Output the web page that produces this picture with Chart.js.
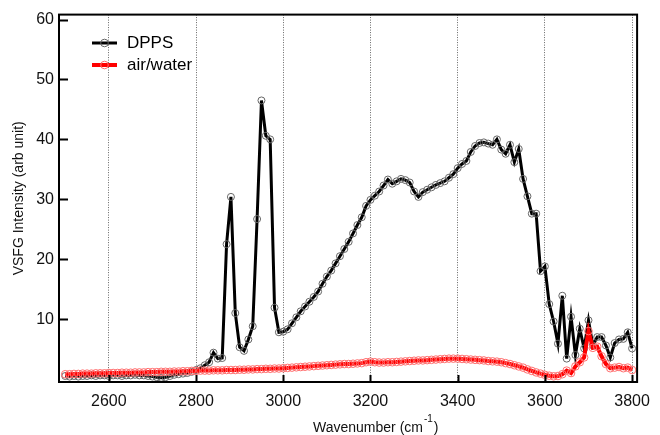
<!DOCTYPE html>
<html>
<head>
<meta charset="utf-8">
<script src="https://cdn.jsdelivr.net/npm/chart.js@4.4.1/dist/chart.umd.min.js"></script>
<style>
  html, body { margin: 0; padding: 0; background: #fff; }
</style>
</head>
<body>
<canvas id="vsfg" width="660" height="435"></canvas>
<script>
// wavenumbers (cm-1), both spectra share the same grid
const wavenumber = [
  2500, 2510, 2520, 2530, 2540, 2550, 2560, 2570, 2580, 2590,
  2600, 2610, 2620, 2630, 2640, 2650, 2660, 2670, 2680, 2690,
  2700, 2710, 2720, 2730, 2740, 2750, 2760, 2770, 2780, 2790,
  2800, 2810, 2820, 2830, 2840, 2850, 2860, 2870, 2880, 2890,
  2900, 2910, 2920, 2930, 2940, 2950, 2960, 2970, 2980, 2990,
  3000, 3010, 3020, 3030, 3040, 3050, 3060, 3070, 3080, 3090,
  3100, 3110, 3120, 3130, 3140, 3150, 3160, 3170, 3180, 3190,
  3200, 3210, 3220, 3230, 3240, 3250, 3260, 3270, 3280, 3290,
  3300, 3310, 3320, 3330, 3340, 3350, 3360, 3370, 3380, 3390,
  3400, 3410, 3420, 3430, 3440, 3450, 3460, 3470, 3480, 3490,
  3500, 3510, 3520, 3530, 3540, 3550, 3560, 3570, 3580, 3590,
  3600, 3610, 3620, 3630, 3640, 3650, 3660, 3670, 3680, 3690,
  3700, 3710, 3720, 3730, 3740, 3750, 3760, 3770, 3780, 3790,
  3800
];

const dpps = [
  0.5, 0.4, 0.5, 0.4, 0.5, 0.5, 0.6, 0.5, 0.6, 0.6,
  0.5, 0.6, 0.6, 0.5, 0.6, 0.6, 0.7, 0.6, 0.6, 0.5,
  0.4, 0.3, 0.2, 0.3, 0.5, 0.7, 0.8, 0.9, 1.0, 1.2,
  1.5, 1.8, 2.3, 2.8, 4.4, 3.4, 3.5, 22.5, 30.4, 11.0,
  5.3, 4.7, 6.6, 8.8, 26.7, 46.5, 40.6, 40.0, 11.9, 7.8,
  7.9, 8.3, 9.3, 10.3, 11.3, 12.1, 12.9, 13.7, 14.6, 15.9,
  17.1, 18.1, 19.3, 20.5, 21.7, 22.9, 24.3, 25.7, 27.0, 28.9,
  29.9, 30.6, 31.3, 32.3, 33.3, 32.6, 33.0, 33.4, 33.2, 32.8,
  31.3, 30.4, 31.2, 31.6, 32.0, 32.4, 32.7, 33.0, 33.6, 34.2,
  35.2, 35.9, 36.4, 37.9, 38.9, 39.4, 39.5, 39.3, 39.1, 40.0,
  38.3, 37.6, 39.1, 36.2, 38.4, 33.4, 30.5, 27.6, 27.6, 18.0,
  18.8, 12.5, 9.6, 5.9, 13.9, 3.4, 10.4, 4.0, 8.4, 5.1,
  9.8, 5.6, 7.0, 7.0, 5.6, 3.6, 6.0, 6.6, 6.7, 7.8,
  5.1
];

const airWater = [
  0.8, 0.8, 0.85, 0.85, 0.9, 0.9, 0.9, 0.95, 0.95, 0.95,
  1.0, 1.0, 1.0, 1.05, 1.05, 1.05, 1.1, 1.1, 1.1, 1.15,
  1.15, 1.15, 1.2, 1.2, 1.2, 1.25, 1.25, 1.3, 1.3, 1.35,
  1.35, 1.4, 1.4, 1.4, 1.45, 1.45, 1.45, 1.5, 1.5, 1.5,
  1.55, 1.55, 1.6, 1.6, 1.65, 1.65, 1.7, 1.7, 1.75, 1.75,
  1.8, 1.85, 1.9, 1.95, 2.0, 2.05, 2.1, 2.15, 2.2, 2.25,
  2.3, 2.35, 2.4, 2.45, 2.5, 2.5, 2.55, 2.6, 2.65, 2.8,
  2.9, 2.8, 2.75, 2.75, 2.8, 2.8, 2.85, 2.9, 2.95, 3.0,
  3.05, 3.1, 3.1, 3.15, 3.2, 3.25, 3.3, 3.35, 3.4, 3.4,
  3.4, 3.35, 3.3, 3.25, 3.2, 3.15, 3.1, 3.0, 2.95, 2.9,
  2.8, 2.65, 2.5, 2.3, 2.1, 1.9, 1.6, 1.35, 1.1, 0.9,
  0.7, 0.55, 0.45, 0.5, 0.8, 1.4, 1.0, 2.1, 2.8, 3.6,
  8.0, 5.2, 5.4, 3.8, 2.5, 1.8, 1.9, 2.0, 1.8, 1.9,
  1.5
];

const xTicks = [2600, 2800, 3000, 3200, 3400, 3600, 3800];
const yTicks = [10, 20, 30, 40, 50, 60];

const FONT = "'Liberation Sans', Arial, Helvetica, sans-serif";

function toPoints(ys) {
  return wavenumber.map((x, i) => ({ x: x, y: ys[i] }));
}

// frame, inward tick marks, legend inside the plot, x title with superscript
const decorations = {
  id: "decorations",
  afterDraw(chart) {
    const ctx = chart.ctx;
    const area = chart.chartArea;
    const xs = chart.scales.x;
    const ys = chart.scales.y;

    ctx.save();
    ctx.strokeStyle = "#000";
    ctx.lineWidth = 2;
    ctx.strokeRect(area.left, area.top, area.right - area.left, area.bottom - area.top);

    ctx.beginPath();
    xTicks.forEach(v => {
      const px = Math.round(xs.getPixelForValue(v)) + 0.5;
      ctx.moveTo(px, area.bottom);
      ctx.lineTo(px, area.bottom - 7);
    });
    yTicks.forEach(v => {
      const py = Math.round(ys.getPixelForValue(v)) + 0.5;
      ctx.moveTo(area.left, py);
      ctx.lineTo(area.left + 9, py);
    });
    ctx.stroke();

    // legend
    const rows = [43, 65];
    chart.data.datasets.forEach((ds, i) => {
      const y = rows[i];
      ctx.strokeStyle = ds.borderColor;
      ctx.lineWidth = ds.borderWidth;
      ctx.beginPath();
      ctx.moveTo(92, y);
      ctx.lineTo(117, y);
      ctx.stroke();
      ctx.strokeStyle = ds.pointBorderColor;
      ctx.lineWidth = 1;
      ctx.beginPath();
      ctx.arc(104.5, y, 3.8, 0, Math.PI * 2);
      ctx.stroke();
      ctx.fillStyle = "#000";
      ctx.font = "17px " + FONT;
      ctx.textBaseline = "middle";
      ctx.textAlign = "left";
      ctx.fillText(ds.label, 127, y);
    });

    // x axis title
    ctx.fillStyle = "#111";
    ctx.textBaseline = "alphabetic";
    ctx.font = "14px " + FONT;
    const main = "Wavenumber (cm";
    const x0 = 313;
    ctx.fillText(main, x0, 432);
    const w = ctx.measureText(main).width;
    ctx.font = "10px " + FONT;
    ctx.fillText("-1", x0 + w + 1, 422);
    const w2 = ctx.measureText("-1").width;
    ctx.font = "14px " + FONT;
    ctx.fillText(")", x0 + w + w2 + 2, 432);
    ctx.restore();
  }
};

new Chart(document.getElementById("vsfg"), {
  type: "line",
  data: {
    datasets: [
      {
        label: "DPPS",
        data: toPoints(dpps),
        borderColor: "#000",
        borderWidth: 3,
        pointRadius: 3.5,
        pointBorderWidth: 1,
        pointBorderColor: "#666",
        pointBackgroundColor: "rgba(0,0,0,0)",
        tension: 0,
        order: 1
      },
      {
        label: "air/water",
        data: toPoints(airWater),
        borderColor: "#ff0000",
        borderWidth: 4,
        pointRadius: 3.8,
        pointBorderWidth: 1,
        pointBorderColor: "#ff6f6f",
        pointBackgroundColor: "rgba(0,0,0,0)",
        tension: 0,
        order: 0
      }
    ]
  },
  options: {
    responsive: false,
    animation: false,
    layout: { padding: { left: 0, top: 11, right: 13, bottom: 0 } },
    plugins: {
      legend: { display: false },
      tooltip: { enabled: false }
    },
    scales: {
      x: {
        type: "linear",
        min: 2485.7,
        max: 3811.5,
        afterBuildTicks: axis => { axis.ticks = xTicks.map(v => ({ value: v })); },
        afterFit: axis => { axis.height = 53; },
        ticks: {
          color: "#111",
          font: { family: FONT, size: 16 },
          padding: 10,
          maxRotation: 0,
          autoSkip: false,
          callback: v => String(v)
        },
        grid: { color: "#666", lineWidth: 1, drawTicks: false },
        border: { display: false, dash: [1, 1.5] }
      },
      y: {
        min: -0.5,
        max: 60.83,
        afterBuildTicks: axis => { axis.ticks = yTicks.map(v => ({ value: v })); },
        afterFit: axis => { axis.width = 59; },
        ticks: {
          color: "#111",
          font: { family: FONT, size: 16 },
          padding: 5,
          autoSkip: false,
          callback: v => String(v)
        },
        grid: { display: false, drawTicks: false },
        border: { display: false },
        title: {
          display: true,
          text: "VSFG Intensity (arb unit)",
          color: "#111",
          font: { family: FONT, size: 14 },
          padding: { top: 11, bottom: 0 }
        }
      }
    }
  },
  plugins: [decorations]
});
</script>
</body>
</html>
